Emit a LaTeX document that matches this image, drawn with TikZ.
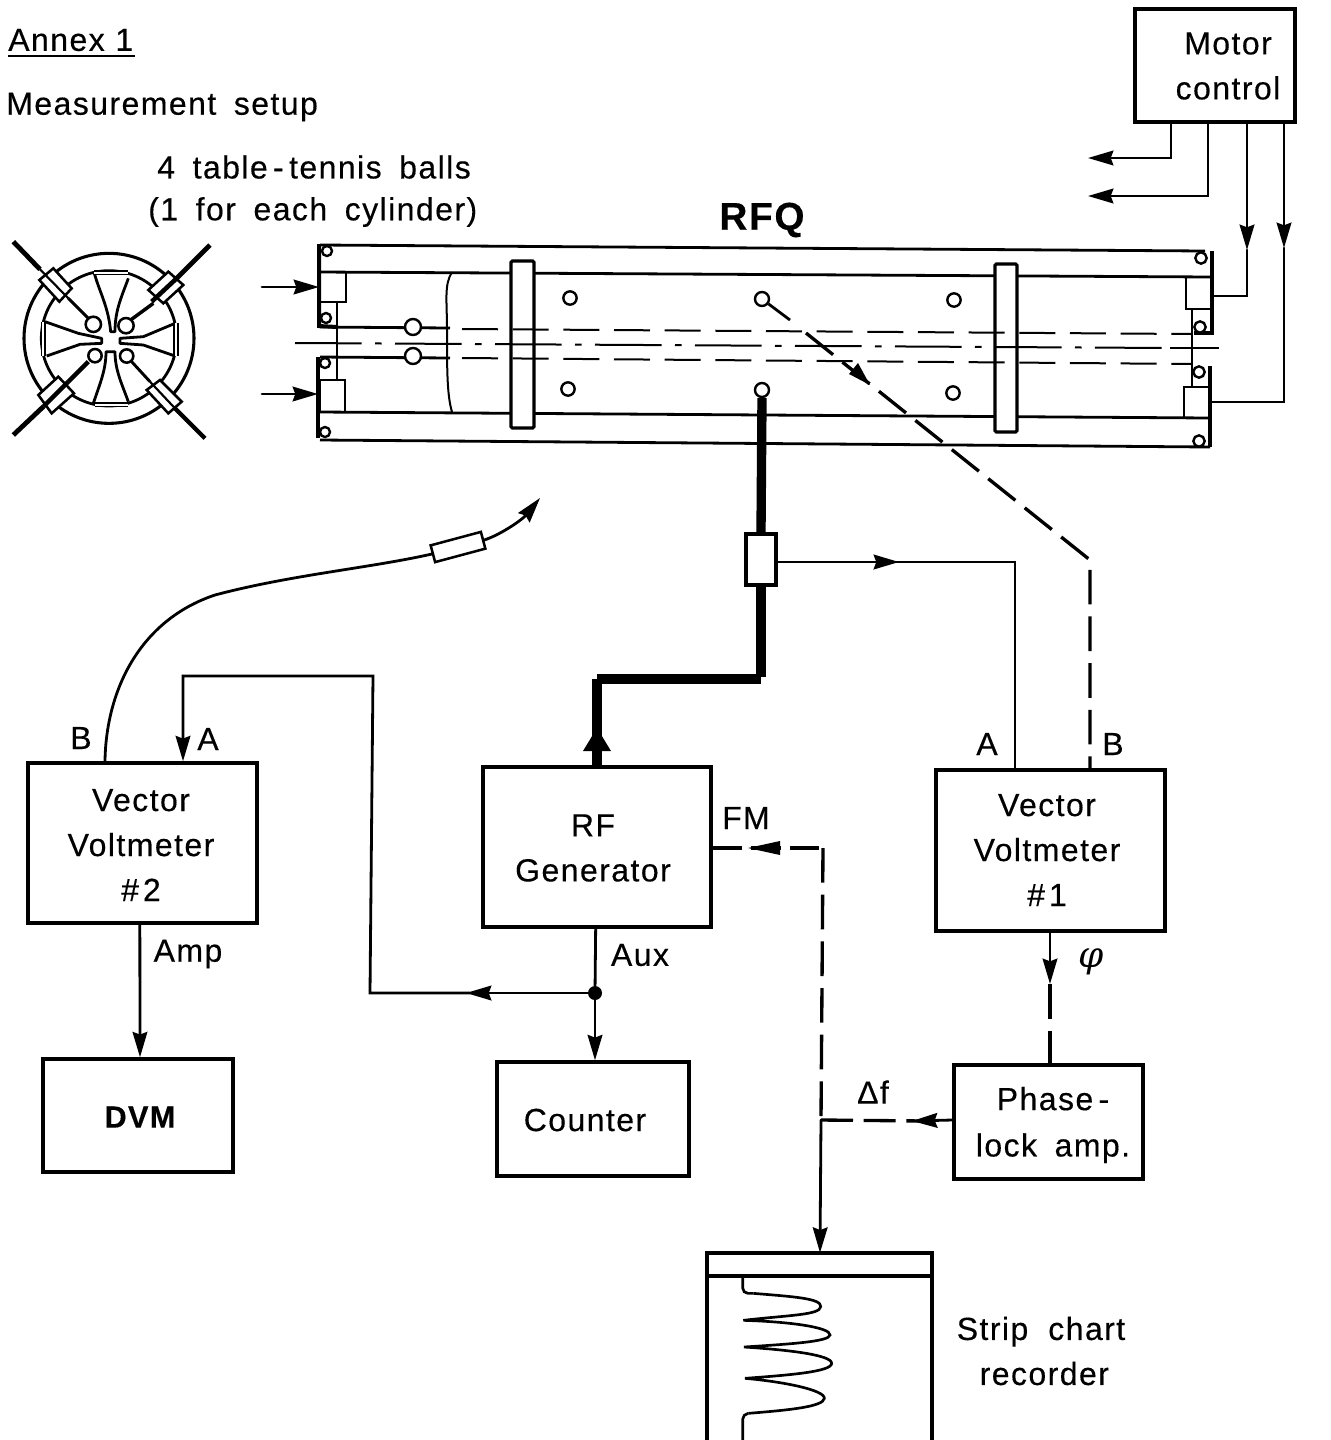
\documentclass[tikz,border=0pt]{standalone}
\usepackage{fontspec}
\setmainfont[LetterSpace=4.5,WordSpace=1.7,FakeBold=0.35]{Liberation Sans}
\newfontfamily\phifont{DejaVu Serif}
\usetikzlibrary{arrows.meta}
\tikzset{
  wire/.style={line width=2.1pt,line cap=round,line join=miter},
  thin wire/.style={line width=1.5pt},
  boxed/.style 2 args={draw,line width=2.6pt,inner sep=0pt,minimum width=#1*0.75pt,minimum height=#2*0.75pt,align=center},
  txt/.style={inner sep=0pt,align=center,font=\fontsize{24}{33.75}\selectfont},
  tip/.style={-{Stealth[length=19pt,width=11pt,inset=2pt]}},
  ldash/.style={line width=2.5pt,dash pattern=on 26pt off 9pt},
  sdash/.style={line width=1.5pt,dash pattern=on 27pt off 11pt},
  cdash/.style={line width=1.5pt,dash pattern=on 50pt off 10pt on 5pt off 10pt},
  cable/.style={line width=7pt},
  ring/.style={draw,circle,line width=1.8pt,fill=white,inner sep=0pt},
  solidpart/.style={line width=2.1pt},
  vane/.style={line width=2.1pt,line join=round},
  vcap/.style={line width=1.4pt,double=white,double distance=1.4pt},
}
\begin{document}
\begin{tikzpicture}[x=0.75pt,y=-0.75pt]
\useasboundingbox (0,0) rectangle (1331,1440);
\fill[white] (0,0) rectangle (1331,1440);

% ---------- headings
\node[txt,anchor=west] (annex) at (8,40) {Annex\hspace{8pt}1};
\draw[line width=1.9pt] (8,56) -- (135,56);
\node[txt,anchor=west] (meas) at (6,107) {Measurement setup};
\node[txt,anchor=west] (balls) at (157,167) {4 table\hspace{4pt}-\hspace{4pt}tennis balls};
\node[txt,anchor=west] (each) at (148,212) {(1 for each cylinder)};
\node[txt,font=\fontsize{29}{30}\bfseries\selectfont] (rfq) at (762,220) {RFQ};

% ---------- cross section (coordinates of a 3x enlargement)
\begin{scope}[shift={(0,230)},x=0.25pt,y=-0.25pt]
  \draw[line width=2.3pt] (327,325) circle [radius=255];
  \draw[line width=2.1pt] (327,325) circle [radius=203];
  \draw[vane] (283,130) .. controls (300,190) and (325,230) .. (332,305) -- (345,305) .. controls (345,240) and (365,200) .. (385,145);
  \draw[vane] (135,275) -- (235,310) -- (305,325) -- (305,340) -- (240,343) -- (140,378);
  \draw[vane] (525,280) -- (430,320) -- (360,325) -- (360,340) -- (430,345) -- (525,378);
  \draw[vane] (280,520) .. controls (300,460) and (318,420) .. (318,365) -- (345,365) .. controls (345,420) and (365,460) .. (385,515);
  \draw[vcap] (283,128) -- (385,128);
  \draw[vcap] (285,524) -- (385,524);
  \draw[vcap] (130,275) -- (130,378);
  \draw[vcap] (528,280) -- (528,378);
  \draw[line width=3.6pt] (40,35) -- (120,118);
  \draw[line width=2.2pt] (205,205) -- (265,265);
  \draw[line width=3.6pt] (630,45) -- (530,145);
  \draw[line width=2.6pt] (460,220) -- (385,275);
  \draw[line width=3.6pt] (40,615) -- (130,530);
  \draw[line width=3.2pt] (205,455) -- (265,395);
  \draw[line width=3.2pt] (615,625) -- (525,535);
  \draw[line width=2.2pt] (450,455) -- (395,395);
  \filldraw[fill=white,line width=1.9pt] (118,150) -- (160,115) -- (215,175) -- (178,215) -- cycle;
  \filldraw[fill=white,line width=1.9pt] (445,180) -- (505,125) -- (550,165) -- (490,220) -- cycle;
  \filldraw[fill=white,line width=1.9pt] (115,495) -- (175,440) -- (222,490) -- (155,550) -- cycle;
  \filldraw[fill=white,line width=1.9pt] (440,480) -- (480,450) -- (545,515) -- (505,550) -- cycle;
  \draw[line width=1.6pt] (120,118) -- (205,205);
  \draw[line width=3.4pt] (455,215) -- (530,145);
  \draw[line width=3.4pt] (130,530) -- (205,455);
  \draw[line width=1.6pt] (525,535) -- (450,455);
  \draw[line width=1.9pt,fill=white] (280,283) circle [radius=23];
  \draw[line width=1.9pt,fill=white] (378,287) circle [radius=23];
  \draw[line width=1.9pt,fill=white] (285,377) circle [radius=20];
  \draw[line width=1.9pt,fill=white] (380,378) circle [radius=20];
\end{scope}

% ---------- RFQ body
\draw[solidpart] (320,245) -- (1205,251);
\draw[solidpart] (320,272) -- (1212,277);
\draw[solidpart] (320,412) -- (1210,418);
\draw[solidpart] (320,440) -- (1210,447);
\draw[line width=3pt] (319,244) -- (319,326) -- (337,327);
\draw[line width=3pt] (318,357) -- (318,438);
\draw[line width=3pt] (1212,251) -- (1212,333) -- (1194,333);
\draw[line width=3pt] (1210,366) -- (1210,447);
\draw[solidpart] (320,272) rectangle (346,302);
\draw[solidpart] (320,380) rectangle (345,412);
\draw[solidpart] (1186,277) rectangle (1212,309);
\draw[solidpart] (1184,387) rectangle (1210,418);
\draw[solidpart] (337,302) -- (337,380);
\draw[solidpart] (1192,309) -- (1192,387);
\draw[line width=1.5pt] (452,272) .. controls (444,285) and (447,300) .. (447,330) .. controls (447,370) and (447,395) .. (452,412);
\draw[line width=2.4pt,fill=white,rounded corners=1pt] (511,261) rectangle (534,428);
\draw[line width=2.4pt,fill=white,rounded corners=1pt] (995,264) rectangle (1017,432);
\draw[solidpart] (320,327) -- (450,328);
\draw[solidpart] (320,357) -- (450,358);
\draw[sdash] (462,329) -- (1192,334);
\draw[sdash] (462,358) -- (1192,364);
\draw[cdash] (295,343) -- (1170,348);
\draw[thin wire] (1170,348) -- (1219,348);

\node[ring,minimum size=7.5pt] (r1) at (327,251) {};
\node[ring,minimum size=7.5pt] (r2) at (326,318) {};
\node[ring,minimum size=7.5pt] (r3) at (325,363) {};
\node[ring,minimum size=7.5pt] (r4) at (325,432) {};
\node[ring,minimum size=8.5pt] (r5) at (1201,258) {};
\node[ring,minimum size=8.5pt] (r6) at (1200,327) {};
\node[ring,minimum size=8.5pt] (r7) at (1199,372) {};
\node[ring,minimum size=8.5pt] (r8) at (1199,441) {};
\node[ring,minimum size=12pt] (p1) at (413,327) {};
\node[ring,minimum size=12pt] (p2) at (413,356) {};
\node[ring,minimum size=10pt] (h1) at (570,298) {};
\node[ring,minimum size=10pt] (h2) at (568,389) {};
\node[ring,minimum size=10pt] (h3) at (954,300) {};
\node[ring,minimum size=10pt] (h4) at (953,393) {};
\node[ring,minimum size=10.5pt] (probeA) at (762,299) {};
\node[ring,minimum size=10.5pt] (probeB) at (762,390) {};

% ---------- boxes
\node[boxed={160}{113}] (motor) at (1215,65.5) {};
\node[txt] (motort) at (1228,66) {Motor\\control};
\node[boxed={229}{160},txt] (vv2) at (142.5,843) {};
\node[txt] (vv2t) at (141,845) {Vector\\Voltmeter\\\#\hspace{3pt}2};
\node[boxed={228}{160},txt] (rf) at (597,847) {};
\node[txt] (rft) at (593,848) {RF\\Generator};
\node[boxed={229}{161},txt] (vv1) at (1050.5,850.5) {};
\node[txt] (vv1t) at (1047,850) {Vector\\Voltmeter\\\#\hspace{3pt}1};
\node[boxed={190}{113}] (dvm) at (138,1115.5) {};
\node[txt,font=\fontsize{23}{33}\bfseries\selectfont] (dvmt) at (140,1117) {DVM};
\node[boxed={192}{114}] (counter) at (593,1119) {};
\node[txt] (countert) at (585,1120) {Counter};
\node[boxed={189}{114}] (phase) at (1048.5,1122) {};
\node[txt] (phaset) at (1053,1125) {Phase\hspace{4pt}-\\[1pt]lock amp.};
\node[boxed={30}{51},fill=white] (coupler) at (761,559.5) {};
\node[draw,line width=1.9pt,fill=white,minimum width=39pt,minimum height=13pt,rotate=15,inner sep=0pt] (atten) at (458,547) {};

% recorder
\draw[line width=2.6pt] (707,1440) -- (707,1253) -- (932,1253) -- (932,1440);
\node[inner sep=0pt,minimum width=0pt,minimum height=0pt] (rec) at (820,1253) {};
\draw[line width=2.6pt] (707,1276) -- (932,1276);
\begin{scope}[shift={(690,1240)},x=0.25pt,y=-0.25pt]
  \draw[line width=2pt,rounded corners=4pt] (158,105) -- (158,160) -- (190,160);
  \draw[line width=2pt] (190,160) .. controls (310,170) and (395,175) .. (392,200)
     .. controls (390,225) and (300,225) .. (160,241)
     .. controls (300,245) and (422,262) .. (420,285)
     .. controls (418,305) and (300,312) .. (162,321)
     .. controls (300,330) and (425,345) .. (425,370)
     .. controls (425,395) and (300,405) .. (165,415)
     .. controls (280,425) and (405,450) .. (403,475)
     .. controls (400,500) and (300,510) .. (175,520);
  \draw[line width=2pt,rounded corners=4pt] (175,520) -- (158,522) -- (158,600);
\end{scope}

% ---------- motor connections
\coordinate (m1) at (1171,158);
\coordinate (m1e) at (1088,158);
\coordinate (m2) at (1208,196);
\coordinate (m2e) at (1088,196);
\coordinate (m3) at (1247,296);
\coordinate (m3t) at (1247,250);
\coordinate (m3e) at (1214,296);
\coordinate (m4) at (1284,402);
\coordinate (m4t) at (1284,248);
\coordinate (m4e) at (1212,402);
\draw[wire,tip] (motor.south -| m1) -- (m1) -- (m1e);
\draw[wire,tip] (motor.south -| m2) -- (m2) -- (m2e);
\draw[wire,tip] (motor.south -| m3) -- (m3t);
\draw[wire] (m3t) -- (m3) -- (m3e);
\draw[wire,tip] (motor.south -| m4) -- (m4t);
\draw[wire] (m4t) -- (m4) -- (m4e);
% table-tennis ball feeds
\coordinate (f1) at (262,287);
\coordinate (f2) at (262,394);
\draw[wire,tip] (f1) -- (319,287);
\draw[wire,tip] (f2) -- (318,394);

% ---------- RF cable
\draw[cable] (probeB.south) -- (coupler.north);
\draw[cable] (coupler.south) -- (761,677);
\coordinate (cb1) at (761,679);
\coordinate (cb2) at (597,679);
\draw[line width=8pt,line cap=square] (cb1) -- (cb2);
\draw[cable] (cb2) -- (rf.north -| cb2);
\fill (597,728) -- (611,751) -- (583,751) -- cycle;

% ---------- coupler to VV1 A
\coordinate (c1) at (885,562);
\coordinate (c2) at (1015,562);
\draw[wire,tip] (coupler.east |- c1) -- (899,562);
\draw[wire] (c1) -- (c2) -- (vv1.north -| c2);

% ---------- probe to VV1 B
\coordinate (d0) at (790,320);
\coordinate (d00) at (806,333);
\coordinate (d1) at (1090,560);
\draw[solidpart] (probeA) -- (d0);
\draw[ldash] (d00) -- (d1) -- (vv1.north -| d1);
\fill (870,385) -- (849,374) -- (858,363) -- cycle;

% ---------- VV2 connections
\coordinate (b0) at (105,763);
\draw[wire] (vv2.north -| b0) .. controls (106,690) and (140,620) .. (215,595)
   .. controls (290,575) and (370,568) .. (atten.west);
\draw[wire,tip] (atten.east) .. controls (500,535) and (522,520) .. (540,498);
\coordinate (a1) at (183,676);
\coordinate (a2) at (373,676);
\coordinate (a3) at (370,993);
\coordinate (a4) at (470,993);
\node[circle,fill=black,inner sep=0pt,minimum size=10.5pt] (jn) at (595,993) {};
\draw[wire,tip] (jn) -- (466,993);
\draw[wire] (a4) -- (a3) -- (a2) -- (a1) -- (183,745);
\draw[wire,tip] (a1) -- (vv2.north -| a1);
\draw[wire,tip] ([xshift=-2pt]vv2.south) -- ([xshift=1.5pt]dvm.north);

% ---------- RF generator outputs
\draw[wire] ([xshift=-1pt]rf.south) -- (jn);
\draw[wire,tip] (jn) -- (counter.north -| jn);

% ---------- FM / phase lock loop
\coordinate (e1) at (823,848);
\coordinate (e2) at (821,1120);
\draw[line width=2.5pt,dash pattern=on 22pt off 7pt] (rf.east |- e1) -- (e1);
\fill (748,848) -- (780,841) -- (780,855) -- cycle;
\draw[ldash] (e1) -- (e2);
\draw[wire,tip] (e2) -- (rec);
\draw[line width=2.5pt,dash pattern=on 24pt off 8pt] (e2) -- (925,1121);
\draw[wire,tip] (phase.west |- e2) -- (912,1121);
\coordinate (g1) at (1050,955);
\draw[wire,tip] (vv1.south -| g1) -- (1050,984);
\draw[ldash] (1050,984) -- (phase.north -| g1);

% ---------- labels
\node[txt] (lb1) at (81,738) {B};
\node[txt] (la1) at (208,739) {A};
\node[txt] (la2) at (987,744) {A};
\node[txt] (lb2) at (1113,744) {B};
\node[txt] (lamp) at (188,954) {Amp};
\node[txt] (laux) at (640,955) {Aux};
\node[txt] (lfm) at (746,818) {FM};
\node[txt] (ldf) at (873,1092) {Δf};
\node[inner sep=0pt,font=\phifont\itshape\fontsize{27}{27}\selectfont] (lphi) at (1091,962) {φ};
\node[txt] (strip) at (1041,1351) {Strip\hspace{15pt}chart\\\hspace*{5pt}recorder};
\end{tikzpicture}
\end{document}
